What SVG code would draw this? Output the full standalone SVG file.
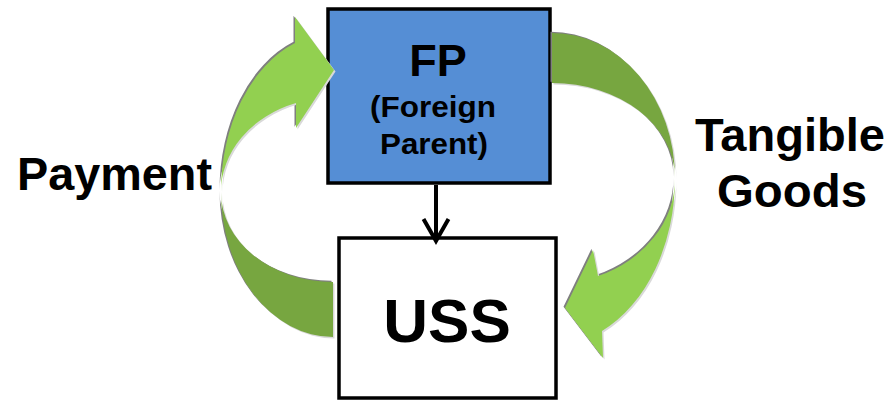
<svg xmlns="http://www.w3.org/2000/svg" xmlns:xlink="http://www.w3.org/1999/xlink" width="893" height="406" viewBox="0 0 893 406">
  <style>
    .box { stroke: #000; stroke-width: 3.5; }
    .lbl { font-family: "Liberation Sans", Arial, sans-serif; font-weight: bold; fill: #000; }
    .light { fill: #92D050; }
    .dark { fill: #77A640; }
    .edge-dark { fill: #7F7F7F; }
    .edge-light { fill: #D9D9D9; }
    .link { stroke: #000; stroke-width: 4; fill: none; }
  </style>
  <defs>
    <marker id="chevron" markerUnits="userSpaceOnUse" markerWidth="40" markerHeight="40" refX="0" refY="0" viewBox="-30 -20 40 40" orient="auto" overflow="visible">
      <path d="M -22 -12.5 L 0 0 L -22 12.5" fill="none" stroke="#000" stroke-width="4"/>
    </marker>
    <!-- left curved arrow: payment flowing up into FP -->
    <path id="payTop" d="M 221 192 A 112 158 0 0 1 295 43 L 295 17 L 334 70 L 296 128 L 296 103 A 112 94 0 0 0 221 192 Z"/>
    <path id="payBottom" d="M 221 192 A 112 145 0 0 0 333 337 L 333 282 A 112 90 0 0 1 221 192 Z"/>
    <!-- right curved arrow: goods flowing down into USS -->
    <path id="goodsTop" d="M 552 33 A 123 145 0 0 1 675 178 A 123 95 0 0 0 552 83 Z"/>
    <path id="goodsBottom" d="M 675 178 A 123 167 0 0 1 602 331 L 603 358 L 565 308 L 593 250 L 598 276 A 123 105 0 0 0 675 178 Z"/>
  </defs>

  <rect width="893" height="406" fill="#fff"/>

  <g id="node-fp">
    <rect class="box" x="328" y="9" width="222" height="174" fill="#558ED5"/>
    <text class="lbl" x="438" y="76" font-size="45" text-anchor="middle">FP</text>
    <text class="lbl" x="433" y="117" font-size="29" text-anchor="middle" textLength="126" lengthAdjust="spacingAndGlyphs">(Foreign</text>
    <text class="lbl" x="434" y="154" font-size="29" text-anchor="middle" textLength="108" lengthAdjust="spacingAndGlyphs">Parent)</text>
  </g>

  <g id="node-uss">
    <rect class="box" x="339" y="238" width="217" height="160" fill="#fff"/>
    <text class="lbl" x="447" y="342" font-size="62" text-anchor="middle">USS</text>
  </g>

  <g id="connectors">
    <line class="link" x1="436" y1="185" x2="436" y2="241" marker-end="url(#chevron)"/>
  </g>

  <g id="flow-payment">
    <use xlink:href="#payBottom" class="edge-dark" transform="translate(-1.5,-1.2)"/>
    <use xlink:href="#payBottom" class="edge-light" transform="translate(1.5,1.5)"/>
    <use xlink:href="#payBottom" class="dark"/>
    <use xlink:href="#payTop" class="edge-dark" transform="translate(-1.5,-1.2)"/>
    <use xlink:href="#payTop" class="edge-light" transform="translate(1.5,1.5)"/>
    <use xlink:href="#payTop" class="light"/>
    <text class="lbl" x="17" y="190" font-size="46" textLength="195" lengthAdjust="spacingAndGlyphs">Payment</text>
  </g>

  <g id="flow-goods">
    <use xlink:href="#goodsTop" class="edge-dark" transform="translate(-1.5,-1.2)"/>
    <use xlink:href="#goodsTop" class="edge-light" transform="translate(1.5,1.5)"/>
    <use xlink:href="#goodsTop" class="dark"/>
    <use xlink:href="#goodsBottom" class="edge-dark" transform="translate(-1.5,-1.2)"/>
    <use xlink:href="#goodsBottom" class="edge-light" transform="translate(1.5,1.5)"/>
    <use xlink:href="#goodsBottom" class="light"/>
    <text class="lbl" x="790" y="151" font-size="47" text-anchor="middle" textLength="190" lengthAdjust="spacingAndGlyphs">Tangible</text>
    <text class="lbl" x="792" y="207" font-size="47" text-anchor="middle" textLength="150" lengthAdjust="spacingAndGlyphs">Goods</text>
  </g>
</svg>
